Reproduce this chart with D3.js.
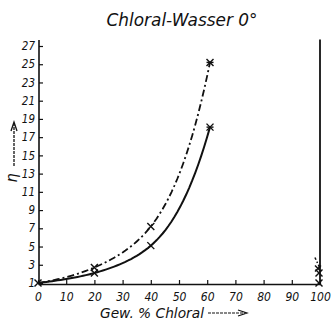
<!DOCTYPE html>
<html><head><meta charset="utf-8">
<script src="https://cdn.jsdelivr.net/npm/d3@7"></script>
<style>
html,body{margin:0;padding:0;background:#fff;}
text{font-family:"DejaVu Sans Condensed","Liberation Sans Narrow","DejaVu Sans",sans-serif;font-style:italic;fill:#111;}
</style></head>
<body><svg id="c" width="335" height="321"></svg>
<script>
const title = "Chloral-Wasser 0°";
const xLabel = "Gew. % Chloral";
const yLabel = "η";
const xTicks = [0,10,20,30,40,50,60,70,80,90,100];
const yTicks = [1,3,5,7,9,11,13,15,17,19,21,23,25,27];
const conc = [0,20,40,61];
const etaSolid = [1,2.1,5.1,18.1];
const etaDash = [1,2.7,7.2,25.2];
const conc100 = [100,100];
const eta100Solid = [1,27.7];
const eta100Dash = [2.6,3.2];
const markSolid100 = [1.0,2.1];
const markDash100 = [2.6];

const svg = d3.select("#c");
const x = d3.scaleLinear().domain([0,100]).range([38,320]);
const y = d3.scaleLinear().domain([1,27]).range([283,46]);

// axes
const gx = svg.append("g").attr("transform","translate(0,284)")
  .call(d3.axisBottom(x).tickValues(xTicks).tickSizeInner(-4).tickSizeOuter(0).tickPadding(8).tickFormat(d3.format("d")));
gx.select(".domain").attr("stroke","#111").attr("stroke-width",1.6);
gx.selectAll(".tick line").attr("stroke","#111").attr("stroke-width",1.2);
gx.selectAll("text").attr("font-size",12).attr("fill","#111").attr("font-family",null);

const gy = svg.append("g").attr("transform","translate(39,0)")
  .call(d3.axisLeft(y).tickValues(yTicks).tickSizeInner(-4).tickSizeOuter(0).tickPadding(4).tickFormat(d3.format("d")));
gy.select(".domain").attr("stroke","#111").attr("stroke-width",1.6).attr("d","M0,"+y(1)+"V40");
gy.selectAll(".tick line").attr("stroke","#111").attr("stroke-width",1.2);
gy.selectAll("text").attr("font-size",11.5).attr("fill","#111").attr("font-family",null);

// smooth curve through the measured points, drawn in log(eta) space
function smoothPath(xs, ys){
  const ly = ys.map(v=>Math.log(v));
  const n = xs.length, m = [];
  for(let i=0;i<n;i++){
    if(i===0) m.push((ly[1]-ly[0])/(xs[1]-xs[0]));
    else if(i===n-1) m.push((ly[n-1]-ly[n-2])/(xs[n-1]-xs[n-2]));
    else m.push(((ly[i]-ly[i-1])/(xs[i]-xs[i-1]) + (ly[i+1]-ly[i])/(xs[i+1]-xs[i]))/2);
  }
  const pts = [];
  for(let i=0;i<n-1;i++){
    const h = xs[i+1]-xs[i];
    for(let k=0;k<20;k++){
      const t = k/20, t2=t*t, t3=t2*t;
      const v = (2*t3-3*t2+1)*ly[i] + (t3-2*t2+t)*h*m[i] + (-2*t3+3*t2)*ly[i+1] + (t3-t2)*h*m[i+1];
      pts.push([xs[i]+t*h, Math.exp(v)]);
    }
  }
  pts.push([xs[n-1], ys[n-1]]);
  return pts;
}
const line = d3.line().x(d=>x(d[0])).y(d=>y(d[1]));
svg.append("path").datum(smoothPath(conc, etaSolid))
  .attr("d",line).attr("fill","none").attr("stroke","#111").attr("stroke-width",2);
svg.append("path").datum(smoothPath(conc, etaDash))
  .attr("d",line).attr("fill","none").attr("stroke","#111").attr("stroke-width",1.8)
  .attr("stroke-dasharray","7,3,2,3");

// vertical line at 100
svg.append("path").datum(conc100.map((c,i)=>[c,eta100Solid[i]]))
  .attr("d",line).attr("fill","none").attr("stroke","#111").attr("stroke-width",1.8);
svg.append("path").datum([[100,eta100Dash[0]],[98.2,eta100Dash[1]+0.6]])
  .attr("d",line).attr("fill","none").attr("stroke","#111").attr("stroke-width",1.5)
  .attr("stroke-dasharray","4,2,1.5,2");

// markers
function cross(px,py,s,star){
  const g = svg.append("g").attr("stroke","#111").attr("stroke-width",1.4);
  g.append("line").attr("x1",px-s).attr("y1",py-s).attr("x2",px+s).attr("y2",py+s);
  g.append("line").attr("x1",px-s).attr("y1",py+s).attr("x2",px+s).attr("y2",py-s);
  if(star) g.append("line").attr("x1",px-s).attr("y1",py).attr("x2",px+s).attr("y2",py);
}
conc.forEach((c,i)=>{ if(i>0){ cross(x(c),y(etaSolid[i]),3.5,i===3); cross(x(c),y(etaDash[i]),3.5,i===3);} });
cross(x(0),y(1),3.5,false);
markSolid100.forEach(v=>cross(x(100)-1,y(v),3.5,false));
markDash100.forEach(v=>cross(x(100)-2,y(v),3,false));

// title
svg.append("text").attr("x",182).attr("y",26).attr("text-anchor","middle")
  .attr("font-size",18).attr("textLength",151).attr("lengthAdjust","spacingAndGlyphs").text(title);

// x label with arrow
svg.append("text").attr("x",100).attr("y",318).attr("font-size",13.5)
  .attr("textLength",104).attr("lengthAdjust","spacingAndGlyphs").text(xLabel);
svg.append("line").attr("x1",208).attr("y1",313).attr("x2",245).attr("y2",313)
  .attr("stroke","#111").attr("stroke-width",1.2).attr("stroke-dasharray","3,1");
svg.append("path").attr("d","M238,310 L247,313 L238,316").attr("fill","none").attr("stroke","#111").attr("stroke-width",1.2);

// y label with arrow
svg.append("text").attr("transform","translate(17,178) rotate(-90)").attr("text-anchor","middle")
  .attr("font-size",16).text(yLabel);
svg.append("line").attr("x1",14).attr("y1",166).attr("x2",14).attr("y2",124)
  .attr("stroke","#111").attr("stroke-width",1.3).attr("stroke-dasharray","3,1");
svg.append("path").attr("d","M11,131 L14,122 L17,131").attr("fill","none").attr("stroke","#111").attr("stroke-width",1.3);
</script></body></html>
